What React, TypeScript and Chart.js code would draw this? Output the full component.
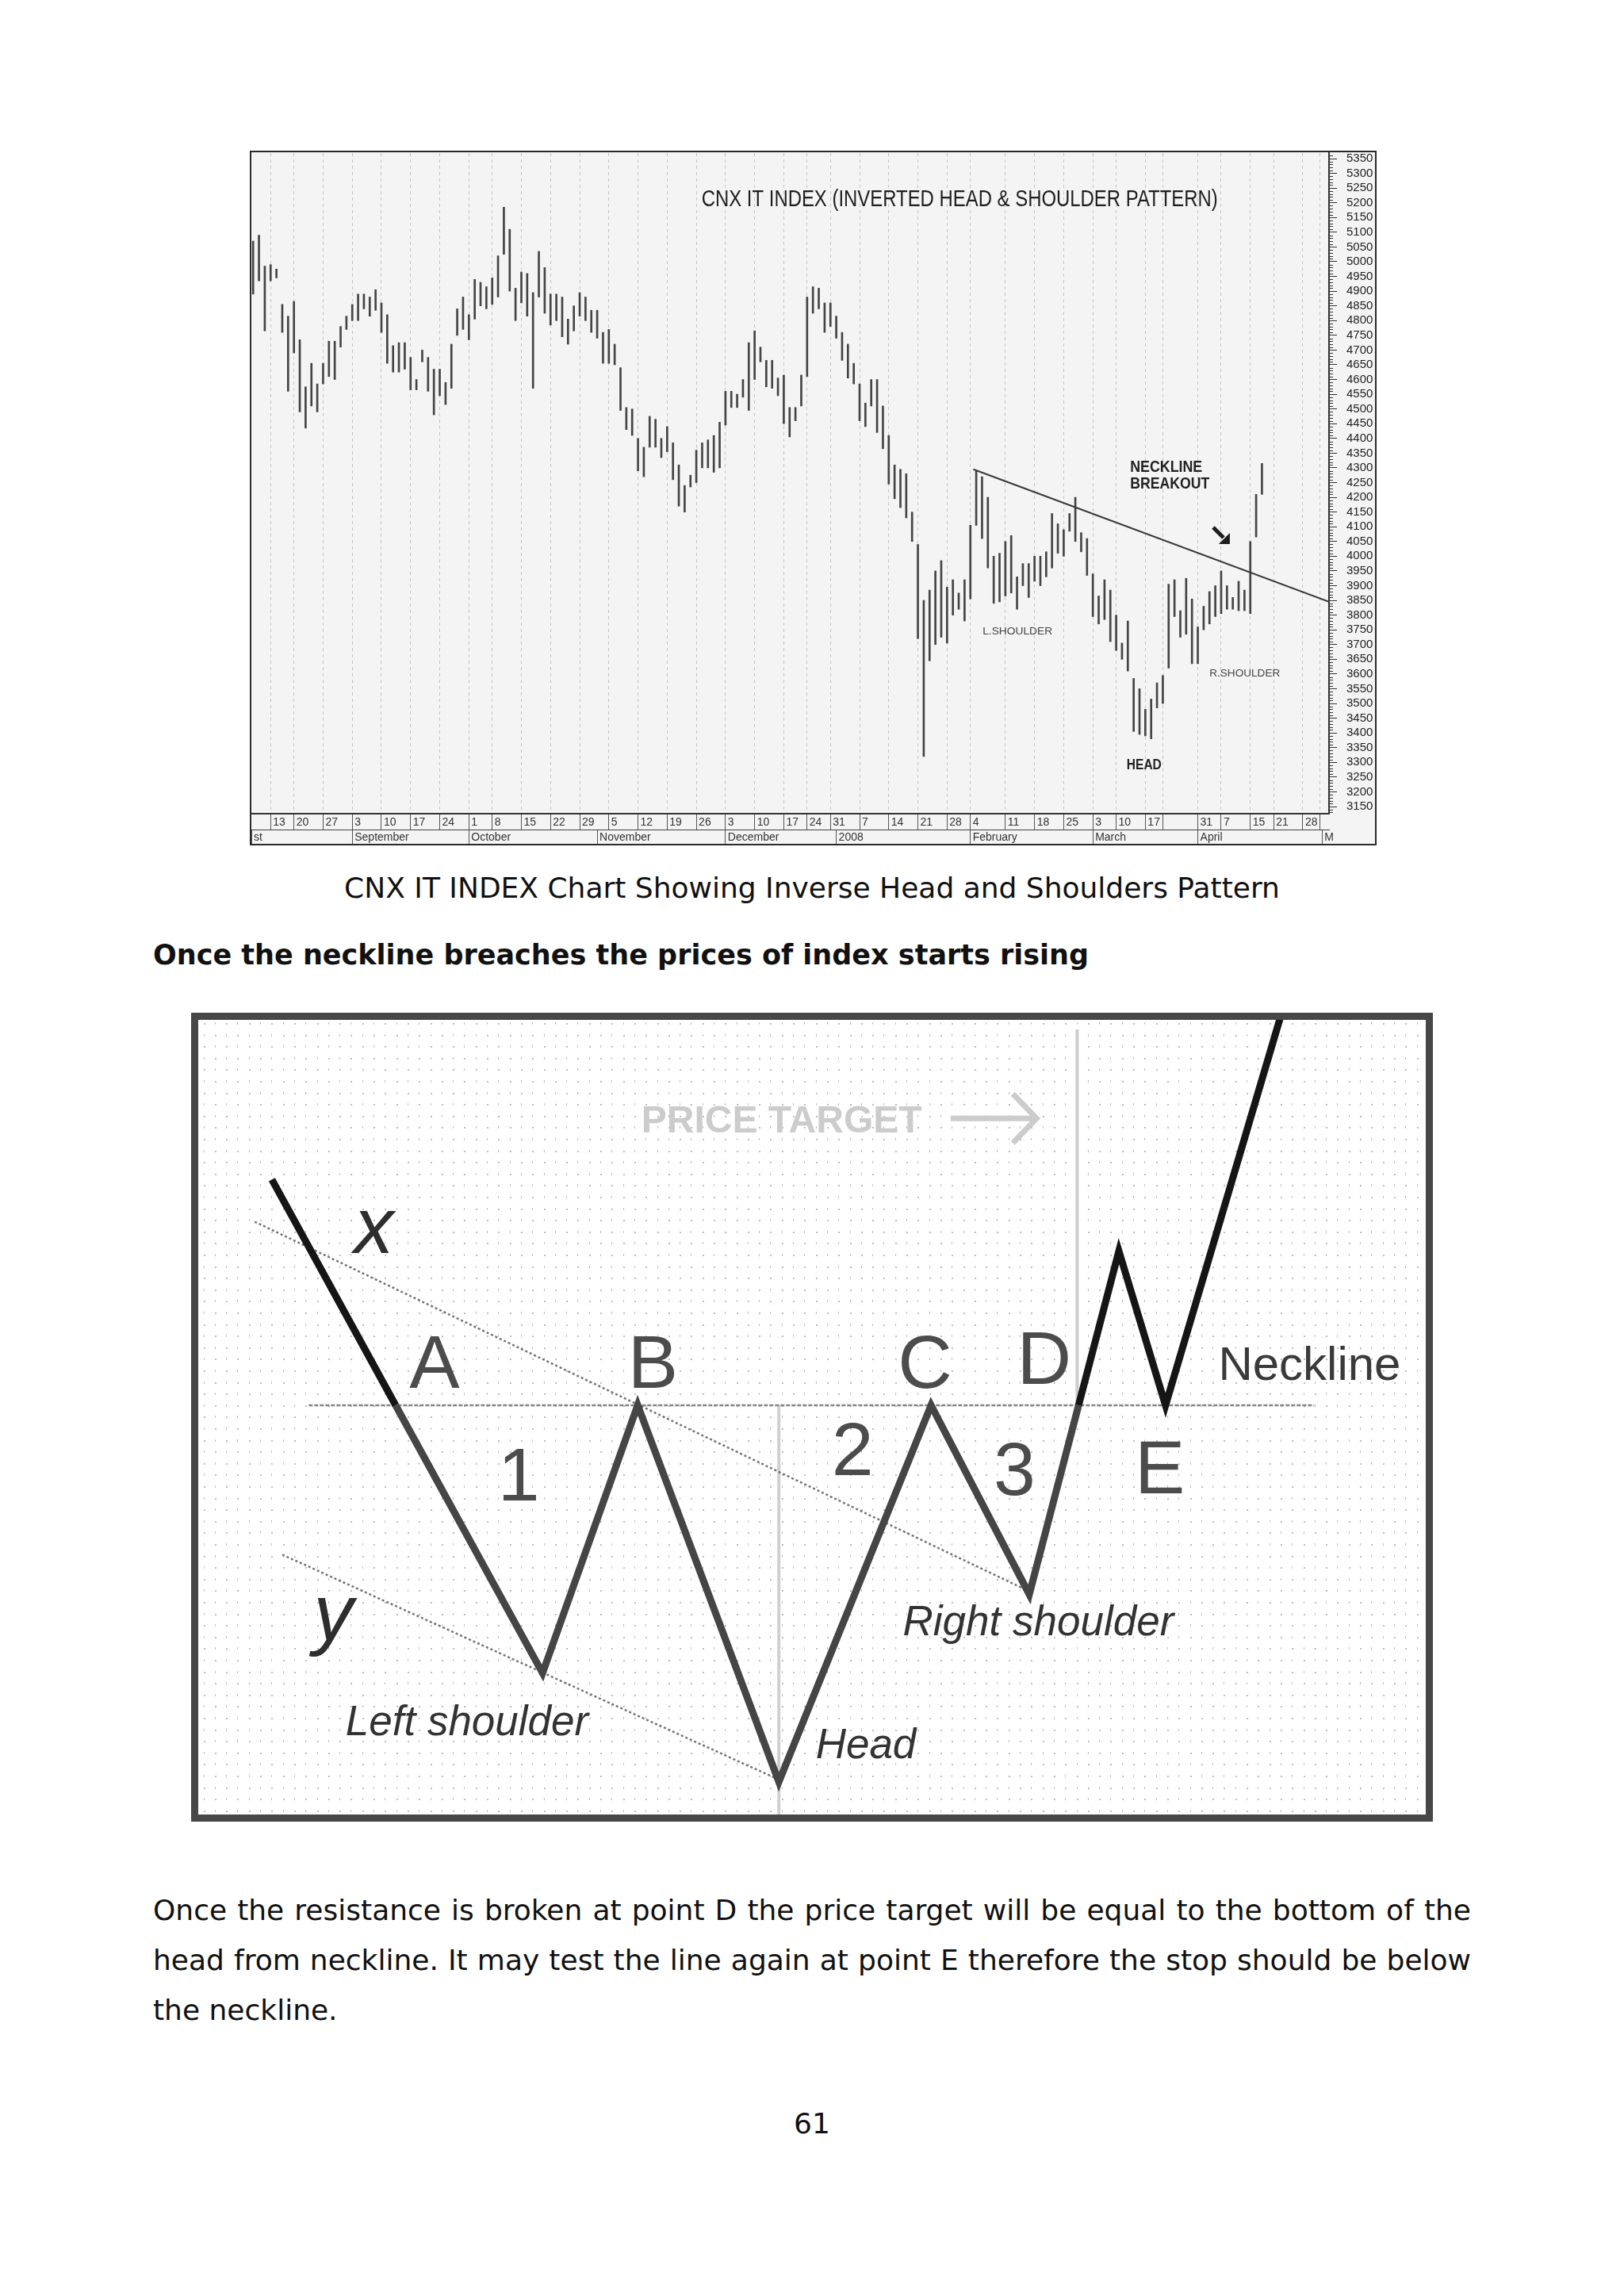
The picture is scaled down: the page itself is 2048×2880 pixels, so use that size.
import React, { useEffect, useRef } from 'react';
import { Chart, registerables } from 'chart.js';

Chart.register(...registerables);

// ================= Chart 1 : CNX IT index, daily high / low bars =================
// one entry per trading session (session index 0 .. 173, Aug 2007 -> Apr 2008)
const barHigh = [
  5070, 5090, 4985, 4990, 4975, 4855, 4815, 4865, 4735, 4575,
  4655, 4585, 4655, 4730, 4730, 4780, 4815, 4855, 4890, 4890,
  4880, 4905, 4860, 4820, 4715, 4725, 4725, 4675, 4600, 4700,
  4675, 4635, 4635, 4590, 4720, 4840, 4880, 4820, 4940, 4930,
  4915, 4945, 5020, 5185, 5110, 4910, 4965, 4960, 4895, 5035,
  4980, 4890, 4890, 4880, 4805, 4850, 4895, 4880, 4835, 4835,
  4760, 4770, 4720, 4640, 4505, 4500, 4400, 4370, 4475, 4465,
  4400, 4440, 4385, 4310, 4240, 4275, 4360, 4385, 4395, 4410,
  4455, 4560, 4560, 4550, 4600, 4725, 4765, 4710, 4665, 4665,
  4605, 4615, 4505, 4505, 4615, 4880, 4915, 4910, 4860, 4860,
  4815, 4760, 4720, 4655, 4585, 4520, 4600, 4600, 4510, 4410,
  4310, 4295, 4280, 4150, 4040, 3850, 3885, 3950, 3985, 3895,
  3920, 3875, 3920, 4105, 4290, 4270, 4200, 4000, 4010, 4050,
  4070, 3930, 3975, 3975, 4000, 4000, 4015, 4145, 4110, 4090,
  4145, 4200, 4080, 4060, 3940, 3865, 3920, 3885, 3800, 3705,
  3780, 3585, 3550, 3480, 3515, 3570, 3595, 3905, 3920, 3815,
  3925, 3855, 3760, 3830, 3880, 3900, 3950, 3900, 3860, 3915,
  3885, 4050, 4210, 4315,
];
const barLow = [
  4890, 4935, 4765, 4935, 4945, 4760, 4560, 4690, 4490, 4435,
  4510, 4490, 4585, 4610, 4600, 4710, 4770, 4800, 4800, 4840,
  4815, 4835, 4760, 4655, 4625, 4625, 4635, 4565, 4565, 4660,
  4560, 4480, 4545, 4515, 4570, 4750, 4770, 4735, 4805, 4850,
  4840, 4855, 4880, 5025, 4900, 4800, 4860, 4815, 4570, 4880,
  4825, 4785, 4800, 4745, 4720, 4765, 4815, 4800, 4760, 4740,
  4655, 4655, 4650, 4495, 4430, 4410, 4290, 4270, 4370, 4370,
  4335, 4355, 4260, 4170, 4150, 4235, 4250, 4300, 4300, 4285,
  4300, 4445, 4505, 4505, 4540, 4495, 4600, 4660, 4575, 4570,
  4545, 4450, 4405, 4460, 4510, 4610, 4825, 4840, 4760, 4780,
  4740, 4665, 4605, 4585, 4460, 4440, 4510, 4420, 4365, 4245,
  4195, 4165, 4130, 4050, 3720, 3320, 3645, 3700, 3725, 3705,
  3800, 3820, 3780, 3855, 4105, 4060, 3960, 3840, 3845, 3865,
  3875, 3820, 3900, 3860, 3915, 3900, 3930, 3960, 4010, 4000,
  4085, 4050, 4015, 3935, 3795, 3770, 3785, 3710, 3680, 3650,
  3610, 3405, 3395, 3390, 3380, 3485, 3500, 3620, 3795, 3725,
  3735, 3635, 3635, 3750, 3770, 3795, 3805, 3820, 3820, 3815,
  3815, 3805, 4065, 4210,
];
const necklineSessions = [123.5, 184.5];
const necklineValues = [4295, 3845];

const weekTickSessions = [
  3, 7, 12, 17, 22, 27, 32, 37, 41, 46, 51, 56, 61, 66, 71, 76, 81, 86, 91, 95,
  99, 104, 109, 114, 119, 123, 129, 134, 139, 144, 148, 153, 156, 162, 166, 171, 175, 180, 183,
];
const weekTickLabels = [
  '13', '20', '27', '3', '10', '17', '24', '1', '8', '15', '22', '29', '5', '12', '19', '26', '3', '10', '17', '24',
  '31', '7', '14', '21', '28', '4', '11', '18', '25', '3', '10', '17', '', '31', '7', '15', '21', '28', '',
];
const monthTickSessions = [-0.3, 17, 37, 59, 81, 100, 123, 144, 162, 183.3];
const monthTickLabels = ['st', 'September', 'October', 'November', 'December', '2008', 'February', 'March', 'April', 'M'];

// ================= Chart 2 : idealised inverse head & shoulders =================
const patternTime = [6.0, 16.08, 28.05, 35.8, 47.3, 59.7, 67.7, 71.72, 75.0, 78.8, 88.4];
const patternPrice = [79.9, 51.5, 17.8, 51.5, 4.1, 51.5, 27.7, 51.5, 70.9, 51.5, 101.6];
const necklineLevel = 51.5;
const necklineSpan = [9.0, 90.9];
const trendXTime = [4.6, 67.4];
const trendXPrice = [74.6, 28.3];
const trendYTime = [6.85, 47.0];
const trendYPrice = [32.7, 4.6];
const headTime = 47.3;
const targetTime = 71.6;
const targetTop = 98.8;

// ---------------------------------------------------------------------------------
function drawText(ctx: CanvasRenderingContext2D, text: string, x: number, y: number, font: string, color: string, width?: number) {
  ctx.save();
  ctx.font = font;
  ctx.fillStyle = color;
  ctx.textAlign = 'left';
  ctx.textBaseline = 'alphabetic';
  ctx.translate(x, y);
  if (width) {
    const m = ctx.measureText(text).width;
    if (m > 0) ctx.scale(width / m, 1);
  }
  ctx.fillText(text, 0, 0);
  ctx.restore();
}

const chart1Notes = [
  { text: 'CNX IT INDEX (INVERTED HEAD & SHOULDER PATTERN)', s: 76.9, v: 5188, font: '29px "Liberation Sans"', w: 651, color: '#1e1e1e' },
  { text: 'NECKLINE', s: 150.4, v: 4286, font: 'bold 20px "Liberation Sans"', w: 91, color: '#222' },
  { text: 'BREAKOUT', s: 150.4, v: 4230, font: 'bold 20px "Liberation Sans"', w: 100, color: '#222' },
  { text: 'L.SHOULDER', s: 125.1, v: 3734, font: '13px "Liberation Sans"', w: 88, color: '#444' },
  { text: 'R.SHOULDER', s: 164.0, v: 3592, font: '13px "Liberation Sans"', w: 89, color: '#444' },
  { text: 'HEAD', s: 149.8, v: 3277, font: 'bold 18px "Liberation Sans"', w: 44, color: '#222' },
];
const chart1Arrow = { s: 166.0, v: 4071 };

const chart2Notes = [
  { text: 'x', t: 12.7, p: 70.7, font: 'italic 100px "Liberation Sans"', color: '#2e2e2e' },
  { text: 'y', t: 9.4, p: 22.0, font: 'italic 100px "Liberation Sans"', color: '#2e2e2e' },
  { text: 'A', t: 17.2, p: 53.7, font: '95px "Liberation Sans"', color: '#4c4c4c' },
  { text: 'B', t: 35.0, p: 53.7, font: '95px "Liberation Sans"', color: '#4c4c4c' },
  { text: '1', t: 24.4, p: 39.5, font: '95px "Liberation Sans"', color: '#4c4c4c' },
  { text: '2', t: 51.6, p: 42.7, font: '95px "Liberation Sans"', color: '#4c4c4c' },
  { text: '3', t: 64.8, p: 40.2, font: '95px "Liberation Sans"', color: '#4c4c4c' },
  { text: 'C', t: 57.0, p: 53.7, font: '95px "Liberation Sans"', color: '#4c4c4c' },
  { text: 'D', t: 66.7, p: 54.2, font: '95px "Liberation Sans"', color: '#4c4c4c' },
  { text: 'E', t: 76.3, p: 40.4, font: '95px "Liberation Sans"', color: '#4c4c4c' },
  { text: 'Neckline', t: 83.1, p: 54.7, font: '60px "Liberation Sans"', color: '#3a3a3a' },
  { text: 'Left shoulder', t: 12.0, p: 10.0, font: 'italic 53px "Liberation Sans"', color: '#333333' },
  { text: 'Right shoulder', t: 57.4, p: 22.6, font: 'italic 53px "Liberation Sans"', color: '#333333' },
  { text: 'Head', t: 50.3, p: 7.1, font: 'italic 53px "Liberation Sans"', color: '#333333' },
  { text: 'PRICE TARGET', t: 36.1, p: 85.8, font: 'bold 48px "Liberation Sans"', color: '#cccccc' },
];
const chart2Arrow = { t0: 61.3, t1: 68.3, p: 87.6 };

// ---------------------------------------------------------------------------------
const chart1Decor = {
  id: 'chart1Decor',
  beforeDraw(chart: any) {
    const { ctx, width, height } = chart;
    ctx.save();
    ctx.fillStyle = '#f4f4f4';
    ctx.fillRect(0, 0, width, height);
    ctx.restore();
  },
  afterDatasetsDraw(chart: any) {
    const { ctx } = chart;
    const xs = chart.scales.x;
    const ys = chart.scales.y;
    chart1Notes.forEach((n) => drawText(ctx, n.text, xs.getPixelForValue(n.s), ys.getPixelForValue(n.v), n.font, n.color, n.w));
    const cx = xs.getPixelForValue(chart1Arrow.s);
    const cy = ys.getPixelForValue(chart1Arrow.v);
    ctx.save();
    ctx.strokeStyle = '#1e1e1e';
    ctx.fillStyle = '#1e1e1e';
    ctx.lineWidth = 5;
    ctx.beginPath();
    ctx.moveTo(cx - 10, cy - 10);
    ctx.lineTo(cx + 3, cy + 3);
    ctx.stroke();
    ctx.beginPath();
    ctx.moveTo(cx + 11, cy + 11);
    ctx.lineTo(cx + 11, cy - 3);
    ctx.lineTo(cx - 3, cy + 11);
    ctx.closePath();
    ctx.fill();
    ctx.restore();
  },
  afterDraw(chart: any) {
    const { ctx, width, height } = chart;
    const ys = chart.scales.y;
    ctx.save();
    ctx.strokeStyle = '#333';
    ctx.lineWidth = 1;
    ctx.beginPath();
    for (let v = 3130; v <= 5360; v += 10) {
      if (v % 50 === 0) continue;
      const py = Math.round(ys.getPixelForValue(v)) + 0.5;
      ctx.moveTo(ys.left, py);
      ctx.lineTo(ys.left + 5, py);
    }
    ctx.stroke();
    ctx.strokeStyle = '#2a2a2a';
    ctx.lineWidth = 2;
    ctx.strokeRect(1, 1, width - 2, height - 2);
    ctx.restore();
  },
};

const chart2Decor = {
  id: 'chart2Decor',
  beforeDatasetsDraw(chart: any) {
    const { ctx, chartArea: a } = chart;
    ctx.save();
    ctx.fillStyle = '#ffffff';
    ctx.fillRect(a.left, a.top, a.right - a.left, a.bottom - a.top);
    ctx.fillStyle = '#bdbdbd';
    let row = 0;
    for (let y = a.top + 4; y < a.bottom; y += 14.6, row++) {
      let col = 0;
      for (let x = a.left + 6.5; x < a.right; x += 14.3, col++) {
        if ((row + col) % 2 === 0) ctx.fillRect(Math.round(x), Math.round(y), 2, 2);
        else ctx.fillRect(Math.round(x), Math.round(y) - 1, 1, 3);
      }
    }
    ctx.restore();
  },
  afterDatasetsDraw(chart: any) {
    const { ctx } = chart;
    const xs = chart.scales.x;
    const ys = chart.scales.y;
    chart2Notes.forEach((n) => drawText(ctx, n.text, xs.getPixelForValue(n.t), ys.getPixelForValue(n.p), n.font, n.color));
    const x0 = xs.getPixelForValue(chart2Arrow.t0);
    const x1 = xs.getPixelForValue(chart2Arrow.t1);
    const y = ys.getPixelForValue(chart2Arrow.p);
    ctx.save();
    ctx.strokeStyle = '#cccccc';
    ctx.lineWidth = 7;
    ctx.lineCap = 'butt';
    ctx.beginPath();
    ctx.moveTo(x0, y);
    ctx.lineTo(x1 - 3, y);
    ctx.moveTo(x1 - 30, y - 31);
    ctx.lineTo(x1, y);
    ctx.lineTo(x1 - 30, y + 31);
    ctx.stroke();
    ctx.restore();
  },
  afterDraw(chart: any) {
    const { ctx, width, height } = chart;
    ctx.save();
    ctx.strokeStyle = '#474747';
    ctx.lineWidth = 9;
    ctx.strokeRect(4.5, 4.5, width - 9, height - 9);
    ctx.restore();
  },
};

// ---------------------------------------------------------------------------------
function PriceChart() {
  const ref = useRef<HTMLCanvasElement>(null);
  useEffect(() => {
    const axisFont = { family: 'Liberation Sans', size: 14 };
    const yFont = { family: 'Liberation Sans', size: 15 };
    const chart = new Chart(ref.current as HTMLCanvasElement, {
      type: 'bar',
      data: {
        datasets: [
          {
            type: 'line',
            label: 'Neckline',
            data: necklineSessions.map((s, i) => ({ x: s, y: necklineValues[i] })),
            borderColor: '#383838',
            borderWidth: 2,
            pointRadius: 0,
            order: 0,
          } as any,
          {
            type: 'bar',
            label: 'CNX IT',
            data: barHigh.map((h, i) => ({ x: i, y: [barLow[i], h] })),
            backgroundColor: '#444444',
            borderWidth: 0,
            barThickness: 2,
            grouped: false,
            order: 1,
          } as any,
        ],
      },
      options: {
        responsive: false,
        animation: false,
        events: [],
        layout: { padding: { left: 2, top: 3, right: 2, bottom: 2 } },
        plugins: { legend: { display: false }, tooltip: { enabled: false } },
        scales: {
          x: {
            type: 'linear',
            position: 'bottom',
            min: -0.3,
            max: 184.5,
            offset: false,
            weight: 0,
            afterBuildTicks: (s: any) => { s.ticks = weekTickSessions.map((v) => ({ value: v })); },
            afterFit: (s: any) => { s.height = 20; s.paddingLeft = 0; s.paddingRight = 0; },
            grid: { display: true, drawOnChartArea: true, offset: false, color: '#c4c4c4', lineWidth: 1, drawTicks: true, tickLength: 20, tickColor: '#555', tickWidth: 1, tickBorderDash: [] },
            border: { display: true, color: '#333', width: 2, dash: [4, 4] },
            ticks: { autoSkip: false, maxRotation: 0, minRotation: 0, align: 'start', labelOffset: 3, padding: -17, color: '#333', font: axisFont, callback: (_v: any, i: number) => weekTickLabels[i] ?? '' },
          },
          xm: {
            type: 'linear',
            axis: 'x',
            position: 'bottom',
            min: -0.3,
            max: 184.5,
            offset: false,
            weight: 1,
            afterBuildTicks: (s: any) => { s.ticks = monthTickSessions.map((v) => ({ value: v })); },
            afterFit: (s: any) => { s.height = 18; s.paddingLeft = 0; s.paddingRight = 0; },
            grid: { display: true, drawOnChartArea: false, offset: false, drawTicks: true, tickLength: 18, tickColor: '#555', tickWidth: 1 },
            border: { display: true, color: '#444', width: 1 },
            ticks: { autoSkip: false, maxRotation: 0, minRotation: 0, align: 'start', labelOffset: 3, padding: -16, color: '#333', font: axisFont, callback: (_v: any, i: number) => monthTickLabels[i] ?? '' },
          },
          y: {
            type: 'linear',
            position: 'right',
            min: 3125.8,
            max: 5368.85,
            afterFit: (s: any) => { s.width = 58; s.paddingTop = 0; s.paddingBottom = 0; },
            grid: { drawOnChartArea: false, drawTicks: true, tickLength: 10, tickColor: '#333', tickWidth: 1 },
            border: { display: true, color: '#333', width: 2 },
            ticks: { stepSize: 50, autoSkip: false, includeBounds: false, padding: 12, color: '#222', font: yFont, callback: (v: any) => String(v) },
          },
        } as any,
      },
      plugins: [chart1Decor],
    } as any);
    return () => chart.destroy();
  }, []);
  return (
    <canvas
      ref={ref}
      width={1421}
      height={876}
      style={{ position: 'absolute', left: 315, top: 190, width: 1421, height: 876 }}
    />
  );
}

function PatternChart() {
  const ref = useRef<HTMLCanvasElement>(null);
  useEffect(() => {
    const wData = patternTime.map((t, i) => ({ x: t, y: patternPrice[i] }));
    const chart = new Chart(ref.current as HTMLCanvasElement, {
      type: 'line',
      data: {
        datasets: [
          {
            label: 'Price',
            data: wData,
            borderColor: '#474747',
            borderWidth: 9,
            borderJoinStyle: 'miter',
            borderCapStyle: 'butt',
            pointRadius: 0,
            tension: 0,
            order: 0,
            segment: {
              borderColor: (c: any) => (c.p0DataIndex < 1 || c.p0DataIndex >= 7 ? '#151515' : '#454545'),
            },
          } as any,
          {
            label: 'Neckline',
            data: necklineSpan.map((t) => ({ x: t, y: necklineLevel })),
            borderColor: '#858585',
            borderWidth: 2.5,
            borderDash: [5, 2],
            pointRadius: 0,
            order: 1,
          },
          {
            label: 'x',
            data: trendXTime.map((t, i) => ({ x: t, y: trendXPrice[i] })),
            borderColor: '#747474',
            borderWidth: 2.5,
            borderDash: [3, 3],
            pointRadius: 0,
            order: 2,
          },
          {
            label: 'y',
            data: trendYTime.map((t, i) => ({ x: t, y: trendYPrice[i] })),
            borderColor: '#747474',
            borderWidth: 2.5,
            borderDash: [3, 3],
            pointRadius: 0,
            order: 2,
          },
          {
            label: 'Head depth',
            data: [{ x: headTime, y: necklineLevel }, { x: headTime, y: 0 }],
            borderColor: '#d0d0d0',
            borderWidth: 4,
            pointRadius: 0,
            order: 3,
          },
          {
            label: 'Price target',
            data: [{ x: targetTime, y: necklineLevel }, { x: targetTime, y: targetTop }],
            borderColor: '#cdcdcd',
            borderWidth: 4,
            pointRadius: 0,
            order: 3,
          },
        ],
      },
      options: {
        responsive: false,
        animation: false,
        events: [],
        layout: { padding: 9 },
        plugins: { legend: { display: false }, tooltip: { enabled: false } },
        scales: {
          x: { type: 'linear', display: false, min: 0, max: 100 },
          y: { type: 'linear', display: false, min: 0, max: 100 },
        },
      },
      plugins: [chart2Decor],
    } as any);
    return () => chart.destroy();
  }, []);
  return (
    <canvas
      ref={ref}
      width={1566}
      height={1020}
      style={{ position: 'absolute', left: 241, top: 1277, width: 1566, height: 1020 }}
    />
  );
}

const textBase: React.CSSProperties = {
  position: 'absolute',
  fontFamily: '"DejaVu Sans", Verdana, sans-serif',
  fontSize: 36,
  lineHeight: '63px',
  color: '#111',
  whiteSpace: 'nowrap',
  margin: 0,
};

export default function App() {
  return (
    <div style={{ position: 'absolute', left: 0, top: 0, width: 2048, height: 2880, background: '#fff', overflow: 'hidden' }}>
      <PriceChart />
      <div style={{ ...textBase, left: 0, top: 1088, width: 2048, textAlign: 'center' }}>
        CNX IT INDEX Chart Showing Inverse Head and Shoulders Pattern
      </div>
      <div style={{ ...textBase, left: 193, top: 1173, fontWeight: 'bold', fontSize: 35 }}>
        Once the neckline breaches the prices of index starts rising
      </div>
      <PatternChart />
      <div style={{ ...textBase, left: 193, top: 2377, width: 1662, whiteSpace: 'normal', textAlign: 'justify', textAlignLast: 'justify' as any }}>
        Once the resistance is broken at point D the price target will be equal to the bottom of the
      </div>
      <div style={{ ...textBase, left: 193, top: 2440, width: 1662, whiteSpace: 'normal', textAlign: 'justify', textAlignLast: 'justify' as any }}>
        head from neckline. It may test the line again at point E therefore the stop should be below
      </div>
      <div style={{ ...textBase, left: 193, top: 2503 }}>the neckline.</div>
      <div style={{ ...textBase, left: 0, top: 2646, width: 2048, textAlign: 'center' }}>61</div>
    </div>
  );
}
